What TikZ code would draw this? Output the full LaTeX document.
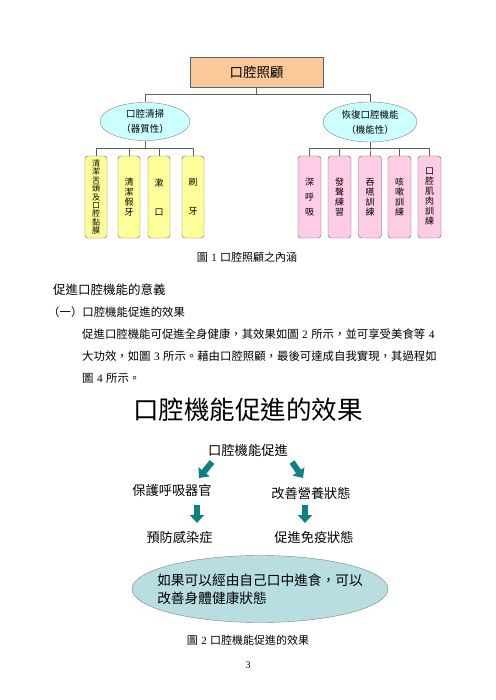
\documentclass[tikz,border=0pt]{standalone}
\usepackage{fontspec}
\setmainfont{Noto Sans CJK TC}
\newfontfamily\latin{Liberation Serif}
\usetikzlibrary{shapes.geometric,arrows.meta}

\definecolor{peach}{RGB}{251,201,153}
\definecolor{paleblue}{RGB}{204,255,255}
\definecolor{paleyellow}{RGB}{255,255,153}
\definecolor{palepink}{RGB}{255,204,229}
\definecolor{seablue}{RGB}{184,222,226}
\definecolor{linegray}{RGB}{96,96,96}
\definecolor{arrowteal}{RGB}{16,128,128}

\newcommand{\sz}[2]{\fontsize{#1}{#2}\selectfont}
\newcommand{\dg}[1]{\hspace{0.3em}{\latin #1}\hspace{0.3em}}

\begin{document}
\begin{tikzpicture}[x=1pt,y=-1pt,
    line/.style={draw=linegray, line width=0.7pt},
    txt/.style={inner sep=0pt},
    topbox/.style={draw=linegray, fill=peach, minimum width=133pt, minimum height=30pt, font=\sz{13.5}{16}},
    catellipse/.style={ellipse, draw=gray, fill=paleblue, inner sep=0pt, align=center, font=\sz{9.5}{15}},
    ybox/.style={draw=linegray, fill=paleyellow, rounded corners=3pt, minimum width=22pt, minimum height=82pt, inner sep=0pt, align=center, font=\sz{9}{10}},
    pbox/.style={draw=linegray, fill=palepink, rounded corners=3pt, minimum width=23pt, minimum height=82pt, inner sep=0pt, align=center, font=\sz{9}{10}},
    bigarrow/.style={draw=arrowteal, line width=6pt, -{Triangle[width=14pt,length=8pt]}}]

    \useasboundingbox (0,0) rectangle (495,700);

    \node[topbox] (care) at (256.5,72) {口腔照顧};

    \node[catellipse, minimum width=90pt, minimum height=38pt] (clean) at (145,121.5) {口腔清掃\\（器質性）};
    \node[catellipse, minimum width=94pt, minimum height=40pt] (func) at (370,122) {恢復口腔機能\\（機能性）};

    \node[ybox, font=\sz{8}{8.4}] (y1) at (96,197) {清\\潔\\舌\\頭\\及\\口\\腔\\黏\\膜};
    \node[ybox] (y2) at (129,197) {清\\潔\\假\\牙};
    \node[ybox] (y3) at (159,197) {漱\\[19pt]口};
    \node[ybox] (y4) at (193,197) {刷\\[19pt]牙};

    \node[pbox] (p1) at (309.5,197) {深\\[5pt]呼\\[5pt]吸};
    \node[pbox] (p2) at (339.5,197) {發\\聲\\練\\習};
    \node[pbox] (p3) at (370,197) {吞\\嚥\\訓\\練};
    \node[pbox] (p4) at (399.5,197) {咳\\嗽\\訓\\練};
    \node[pbox] (p5) at (429.5,197) {口\\腔\\肌\\肉\\訓\\練};

    \draw[line] (care.south) -- ++(0,7) -| (clean.north);
    \draw[line] (care.south) -- ++(0,7) -| (func.north);

    \draw[line] (clean.south) -- ++(0,8) -| (y1.north);
    \draw[line] (clean.south) -- ++(0,8) -| (y2.north);
    \draw[line] (clean.south) -- ++(0,8) -| (y3.north);
    \draw[line] (clean.south) -- ++(0,8) -| (y4.north);

    \draw[line] (func.south) -- ++(0,6) -| (p1.north);
    \draw[line] (func.south) -- ++(0,6) -| (p2.north);
    \draw[line] (func.south) -- ++(0,6) -| (p3.north);
    \draw[line] (func.south) -- ++(0,6) -| (p4.north);
    \draw[line] (func.south) -- ++(0,6) -| (p5.north);

    \node[txt, font=\sz{11}{12}] (cap1) at (247,257) {圖\dg{1}口腔照顧之內涵};

    \node[txt, anchor=west, font=\sz{12.5}{14}] (heading) at (53,290) {促進口腔機能的意義};
    \node[txt, anchor=west, font=\sz{11.4}{13}] (sub) at (48,312) {（一）口腔機能促進的效果};
    \node[txt, anchor=west, font=\sz{11.4}{13}] (line1) at (82,334) {促進口腔機能可促進全身健康，其效果如圖\dg{2}所示，並可享受美食等\dg{4}};
    \node[txt, anchor=west, font=\sz{11.4}{13}] (line2) at (82,356) {大功效，如圖\dg{3}所示。藉由口腔照顧，最後可達成自我實現，其過程如};
    \node[txt, anchor=west, font=\sz{11.4}{13}] (line3) at (82,378) {圖\dg{4}所示。};

    \node[txt, font=\sz{25.5}{28}] (title) at (248,410) {口腔機能促進的效果};

    \node[txt, font=\sz{13.3}{15}] (promote) at (248,450) {口腔機能促進};
    \node[txt, font=\sz{13.2}{15}] (protect) at (172,490) {保護呼吸器官};
    \node[txt, font=\sz{13.2}{15}] (improve) at (311,493) {改善營養狀態};
    \node[txt, font=\sz{13.2}{15}] (prevent) at (179.5,537) {預防感染症};
    \node[txt, font=\sz{13.2}{15}] (immune) at (314,537) {促進免疫狀態};

    \draw[bigarrow] ([shift={(-36,12)}]promote.center) -- ([shift={(27,-12)}]protect.center);
    \draw[bigarrow] ([shift={(44,12)}]promote.center) -- ([shift={(-8,-15)}]improve.center);
    \draw[bigarrow] ([shift={(25,15)}]protect.center) -- ([shift={(17.5,-14)}]prevent.center);
    \draw[bigarrow] ([shift={(-6,12)}]improve.center) -- ([shift={(-9,-14)}]immune.center);

    \node[ellipse, draw=gray, fill=seablue, minimum width=256pt, minimum height=67pt] (summary) at (260,589) {};
    \node[txt, align=left, font=\sz{13.7}{18}] (summarytext) at (summary.center) {如果可以經由自己口中進食，可以\\改善身體健康狀態};

    \node[txt, font=\sz{11}{12}] (cap2) at (248,640) {圖\dg{2}口腔機能促進的效果};
    \node[txt, font=\latin\sz{10}{12}] (pagenum) at (248,665) {3};
\end{tikzpicture}
\end{document}
